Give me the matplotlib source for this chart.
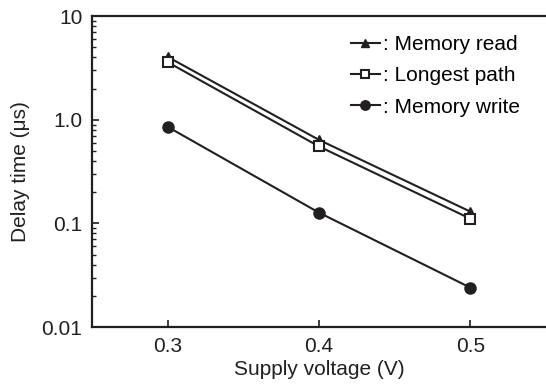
import matplotlib
matplotlib.use("Agg")
import matplotlib.pyplot as plt
from matplotlib.ticker import FixedLocator, FixedFormatter, LogLocator, NullFormatter

plt.rcParams['font.family'] = ['Liberation Sans', 'DejaVu Sans']

# Data
voltage = [0.3, 0.4, 0.5]
mem_read = [4.05, 0.64, 0.13]
longest_path = [3.6, 0.553, 0.111]
mem_write = [0.855, 0.127, 0.024]

ytick_vals = [0.01, 0.1, 1.0, 10]
ytick_labels = ["0.01", "0.1", "1.0", "10"]
xtick_vals = [0.3, 0.4, 0.5]

fig = plt.figure(figsize=(5.46, 3.85), dpi=100)
ax = fig.add_axes([0.1685, 0.1506, 0.8315, 0.8074])

lw = 1.5
c = "#231f20"
ax.plot(voltage, mem_read, marker='^', color=c, lw=lw, ms=7.5, label=": Memory read")
ax.plot(voltage, longest_path, marker='s', color=c, lw=lw, ms=7, mfc='white', mew=1.5,
        label=": Longest path")
ax.plot(voltage, mem_write, marker='o', color=c, lw=lw, ms=8, label=": Memory write")

ax.set_yscale('log')
ax.set_ylim(0.01, 10)
ax.set_xlim(0.25, 0.55)

ax.yaxis.set_major_locator(FixedLocator(ytick_vals))
ax.yaxis.set_major_formatter(FixedFormatter(ytick_labels))
ax.yaxis.set_minor_locator(LogLocator(base=10, subs=range(2, 10)))
ax.yaxis.set_minor_formatter(NullFormatter())
ax.xaxis.set_major_locator(FixedLocator(xtick_vals))
ax.set_xticklabels(["0.3", "0.4", "0.5"])

ax.tick_params(axis='both', which='major', direction='in', length=5, width=1.2,
               labelsize=15, colors=c, pad=7)
ax.tick_params(axis='y', which='minor', direction='in', length=3, width=1.0, colors=c)

for s in ['left', 'bottom', 'top']:
    ax.spines[s].set_linewidth(1.6)
    ax.spines[s].set_color(c)
ax.spines['right'].set_visible(False)

ax.set_xlabel("Supply voltage (V)", fontsize=15, color=c, labelpad=3)
ax.set_ylabel("Delay time (μs)", fontsize=15, color=c, labelpad=8)

ax.legend(loc='upper right', frameon=False, fontsize=15, handlelength=1.4,
          handletextpad=0.15, labelspacing=0.58, borderaxespad=0.3,
          markerscale=0.85, bbox_to_anchor=(0.975, 0.985))

fig.savefig("out.png", dpi=100)
